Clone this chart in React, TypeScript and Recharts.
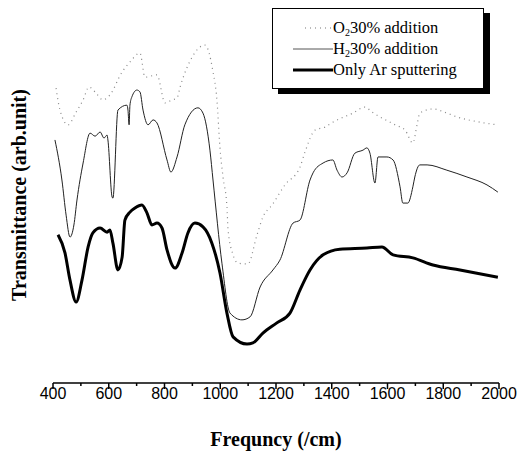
import React from "react";
import { LineChart, Line, XAxis, YAxis } from "recharts";

// ---- data (frequency in /cm, transmittance in arbitrary units 0..100) ----
const xTicks = [400, 500, 600, 700, 800, 900, 1000, 1100, 1200, 1300, 1400, 1500, 1600, 1700, 1800, 1900, 2000];

const o2Freq = [411, 425, 454, 483, 508, 529, 551, 579, 604, 648, 676, 712, 730, 773, 802, 827, 845, 856, 899, 945, 974, 988, 999, 1010, 1024, 1028, 1046, 1064, 1099, 1132, 1153, 1186, 1232, 1286, 1304, 1340, 1376, 1404, 1476, 1519, 1544, 1573, 1627, 1663, 1691, 1706, 1716, 1763, 1813, 1849, 1932, 1993];
const o2Val = [78.0, 72.2, 68.3, 71.7, 74.9, 78.3, 77.0, 74.9, 76.2, 82.3, 84.9, 87.3, 80.9, 81.5, 74.1, 74.9, 75.4, 78.3, 86.2, 89.4, 82.3, 74.9, 62.2, 54.5, 46.6, 40.5, 33.9, 31.7, 31.5, 39.2, 43.9, 47.1, 52.4, 57.1, 61.1, 66.9, 67.7, 69.0, 71.4, 73.0, 71.7, 70.4, 68.3, 66.9, 63.5, 68.3, 71.4, 72.5, 71.4, 70.4, 69.0, 68.3];

const h2Freq = [407, 432, 447, 461, 475, 486, 508, 533, 551, 569, 583, 594, 597, 612, 615, 633, 665, 669, 673, 676, 683, 701, 712, 723, 741, 759, 773, 809, 823, 845, 873, 920, 938, 963, 974, 1006, 1035, 1078, 1107, 1143, 1189, 1214, 1261, 1286, 1322, 1333, 1369, 1404, 1419, 1437, 1455, 1483, 1512, 1526, 1537, 1555, 1566, 1598, 1620, 1645, 1655, 1673, 1691, 1698, 1716, 1742, 1813, 1885, 1957, 1996];
const h2Val = [64.3, 53.7, 44.4, 38.6, 41.8, 48.4, 58.2, 66.1, 65.3, 66.4, 64.8, 65.6, 64.3, 49.2, 48.9, 72.2, 73.5, 72.2, 68.3, 73.5, 75.7, 77.5, 77.0, 72.2, 68.3, 69.6, 68.8, 59.0, 55.8, 59.8, 68.3, 72.8, 71.4, 61.6, 53.7, 31.7, 18.5, 16.7, 17.5, 25.4, 29.9, 32.5, 42.3, 43.1, 53.7, 55.6, 58.2, 59.0, 56.3, 54.5, 55.6, 60.8, 61.6, 62.2, 60.8, 52.9, 59.8, 59.8, 59.0, 51.9, 47.6, 47.6, 51.9, 54.5, 57.7, 57.7, 56.3, 54.5, 52.4, 50.5];

const arFreq = [418, 443, 461, 483, 504, 526, 543, 569, 594, 604, 615, 633, 648, 658, 676, 694, 719, 737, 755, 773, 791, 809, 838, 863, 884, 909, 938, 970, 999, 1024, 1046, 1096, 1117, 1153, 1203, 1250, 1286, 1322, 1369, 1429, 1526, 1580, 1620, 1691, 1763, 1860, 1996];
const arVal = [39.2, 34.4, 27.2, 21.4, 27.2, 36.0, 39.7, 41.0, 39.9, 40.5, 37.0, 29.9, 33.3, 43.1, 45.2, 46.3, 47.1, 45.0, 41.8, 42.3, 41.0, 35.2, 30.4, 34.4, 39.7, 42.3, 41.3, 37.0, 29.1, 18.5, 12.2, 10.3, 10.6, 13.2, 15.9, 18.5, 24.6, 29.9, 33.9, 35.4, 35.7, 36.0, 33.9, 33.1, 31.2, 29.9, 28.0];

const seriesNames = ["30% addition", "30% addition", "Only Ar sputtering"];

const toData = (f: number[], v: number[]) => f.map((x, i) => ({ f: x, v: v[i] }));
const o2Data = toData(o2Freq, o2Val);
const h2Data = toData(h2Freq, h2Val);
const arData = toData(arFreq, arVal);

const serif = "'Liberation Serif', 'Times New Roman', serif";
const sans = "'Liberation Sans', Arial, sans-serif";

const XTick = (props: any) => {
  const { x, y, payload } = props;
  const v = payload.value as number;
  const major = v % 200 === 0;
  return (
    <g>
      <line x1={x} x2={x} y1={y} y2={y + (major ? 6 : 3)} stroke="#000" strokeWidth={1.5} />
      {major && (
        <text x={x} y={y + 16} textAnchor="middle" fontFamily={sans} fontSize={16} fill="#000">
          {v}
        </text>
      )}
    </g>
  );
};

const LegendRow = ({ kind, children }: { kind: string; children: React.ReactNode }) => (
  <div style={{ display: "flex", alignItems: "center", height: 21 }}>
    <svg width={42} height={10} style={{ display: "block" }}>
      {kind === "o2" && <line x1={14} x2={42} y1={5} y2={5} stroke="#777" strokeWidth={1.2} strokeDasharray="1 4" />}
      {kind === "h2" && <line x1={2} x2={42} y1={5} y2={5} stroke="#555" strokeWidth={1} />}
      {kind === "ar" && <line x1={2} x2={42} y1={5} y2={5} stroke="#000" strokeWidth={3} />}
    </svg>
    <span>{children}</span>
  </div>
);

export default function App() {
  return (
    <div style={{ position: "absolute", left: 0, top: 0, width: 519, height: 457, background: "#fff" }}>
      <LineChart width={519} height={457} margin={{ top: 5, right: 20, left: 53, bottom: 0 }}>
        <XAxis
          dataKey="f"
          type="number"
          domain={[400, 2000]}
          ticks={xTicks}
          interval={0}
          tickSize={0}
          tickMargin={0}
          height={74}
          tick={<XTick />}
          axisLine={{ stroke: "#000", strokeWidth: 1.5 }}
          allowDataOverflow
        />
        <XAxis
          xAxisId="top"
          orientation="top"
          type="number"
          domain={[400, 2000]}
          height={0}
          tick={false}
          tickLine={false}
          axisLine={{ stroke: "#000", strokeWidth: 1.5 }}
        />
        <YAxis
          yAxisId="left"
          type="number"
          domain={[0, 100]}
          width={0}
          tick={false}
          tickLine={false}
          axisLine={{ stroke: "#000", strokeWidth: 1.5 }}
        />
        <YAxis
          yAxisId="right"
          orientation="right"
          type="number"
          domain={[0, 100]}
          width={0}
          tick={false}
          tickLine={false}
          axisLine={{ stroke: "#000", strokeWidth: 1.5 }}
        />
        <Line
          yAxisId="left"
          data={o2Data}
          dataKey="v"
          name={"O2" + seriesNames[0]}
          type="monotone"
          stroke="#888"
          strokeWidth={1.2}
          strokeDasharray="1 4"
          dot={false}
          isAnimationActive={false}
        />
        <Line
          yAxisId="left"
          data={h2Data}
          dataKey="v"
          name={"H2" + seriesNames[1]}
          type="monotone"
          stroke="#222"
          strokeWidth={1}
          dot={false}
          isAnimationActive={false}
        />
        <Line
          yAxisId="left"
          data={arData}
          dataKey="v"
          name={seriesNames[2]}
          type="monotone"
          stroke="#000"
          strokeWidth={3}
          dot={false}
          isAnimationActive={false}
        />
      </LineChart>

      {/* Legend */}
      <div
        style={{
          position: "absolute",
          left: 272,
          top: 8,
          width: 212,
          height: 81,
          border: "1.5px solid #000",
          boxShadow: "6px 5px 0 #000",
          background: "#fff",
          fontFamily: serif,
          fontSize: 16.5,
          color: "#000",
          paddingTop: 8,
          boxSizing: "border-box",
          paddingLeft: 18,
        }}
      >
        <LegendRow kind="o2">
          O<sub style={{ fontSize: 10, verticalAlign: "-3px" }}>2</sub>
          {seriesNames[0]}
        </LegendRow>
        <LegendRow kind="h2">
          H<sub style={{ fontSize: 10, verticalAlign: "-3px" }}>2</sub>
          {seriesNames[1]}
        </LegendRow>
        <LegendRow kind="ar">{seriesNames[2]}</LegendRow>
      </div>

      {/* Axis titles */}
      <div
        style={{
          position: "absolute",
          left: 0,
          width: 519,
          top: 428,
          textAlign: "center",
          paddingLeft: 33,
          boxSizing: "border-box",
          fontFamily: serif,
          fontWeight: "bold",
          fontSize: 20,
          color: "#000",
        }}
      >
        Frequncy (/cm)
      </div>
      <div
        style={{
          position: "absolute",
          left: 19,
          top: 195,
          transform: "translate(-50%, -50%) rotate(-90deg)",
          whiteSpace: "nowrap",
          fontFamily: serif,
          fontWeight: "bold",
          fontSize: 20,
          color: "#000",
        }}
      >
        Transmittance (arb.unit)
      </div>
    </div>
  );
}
